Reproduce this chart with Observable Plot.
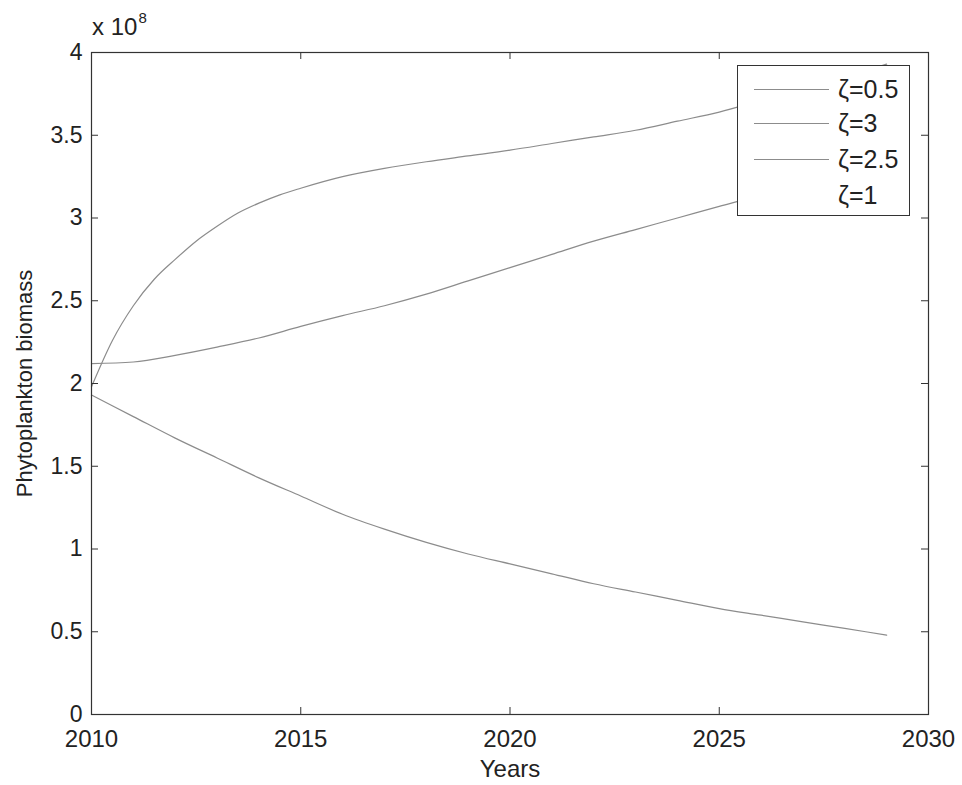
<!DOCTYPE html>
<html>
<head>
<meta charset="utf-8">
<script src="https://cdn.jsdelivr.net/npm/d3@7"></script>
<script src="https://cdn.jsdelivr.net/npm/@observablehq/plot@0.6"></script>
<style>
  html, body { margin: 0; padding: 0; background: #fff; }
  #wrap { position: relative; width: 962px; height: 785px; font-family: "Liberation Sans", Arial, sans-serif; color: #222; }
  #exp { position: absolute; left: 92px; top: 15px; font-size: 24px; line-height: 1; }
  #exp sup { font-size: 15px; position: relative; top: -5px; vertical-align: top; margin-left: 1px; }
  #legend { position: absolute; left: 737px; top: 65px; width: 171px; height: 149px; background: #fff; border: 1px solid #333; }
  .row { position: absolute; left: 0; height: 30px; width: 171px; }
  .row .ln { position: absolute; left: 16px; top: 15px; width: 75px; height: 0; border-top: 1.2px solid #8c8c8c; }
  .row .tx { position: absolute; left: 100px; top: 1px; font-size: 25px; line-height: 28px; }
</style>
</head>
<body>
<div id="wrap"></div>
<script>
// ---- data (biomass in units of 10^8) ----
const years = [2010,2011,2012,2013,2014,2015,2016,2017,2018,2019,2020,2021,2022,2023,2024,2025,2026,2027,2028,2029];
const zeta05 = [1.93,1.80,1.67,1.55,1.43,1.32,1.21,1.12,1.04,0.97,0.91,0.85,0.79,0.74,0.69,0.64,0.60,0.56,0.52,0.48];
const zeta25 = [2.12,2.13,2.17,2.22,2.275,2.345,2.41,2.47,2.54,2.62,2.70,2.78,2.86,2.93,3.00,3.07,3.14,3.22,3.30,3.38];
const years3 = [2010,2010.5,2011,2011.5,2012,2012.5,2013,2013.5,2014,2014.5,2015,2016,2017,2018,2019,2020,2021,2022,2023,2024,2025,2026,2027,2028,2029];
const zeta3 = [1.98,2.26,2.47,2.63,2.75,2.86,2.95,3.03,3.09,3.14,3.18,3.25,3.30,3.34,3.375,3.41,3.45,3.49,3.53,3.585,3.64,3.71,3.78,3.85,3.93];
const legendLabels = ["ζ=0.5","ζ=3","ζ=2.5","ζ=1"];
const legendHasLine = [true,true,true,false];
const xTicks = [2010,2015,2020,2025,2030];
const yTicks = [0,0.5,1,1.5,2,2.5,3,3.5,4];
const xLabel = "Years";
const yLabel = "Phytoplankton biomass";

const rows = [
  ...years.map((x,i)=>({x, y: zeta05[i], s: "ζ=0.5"})),
  ...years3.map((x,i)=>({x, y: zeta3[i], s: "ζ=3"})),
  ...years.map((x,i)=>({x, y: zeta25[i], s: "ζ=2.5"}))
];

const W = 962, H = 785, mL = 91, mR = 34, mT = 52, mB = 71;
const iw = W - mL - mR, ih = H - mT - mB, tk = 7;
const axisColor = "#333";

const chart = Plot.plot({
  width: W, height: H,
  marginLeft: mL, marginRight: mR, marginTop: mT, marginBottom: mB,
  x: {domain: [2010, 2030], axis: null},
  y: {domain: [0, 4], axis: null},
  style: {fontFamily: "'Liberation Sans', Arial, sans-serif", background: "white", color: "#222"},
  marks: [
    Plot.line(rows, {x: "x", y: "y", z: "s", stroke: "#8c8c8c", strokeWidth: 1.2, curve: "monotone-x"}),
    Plot.frame({stroke: axisColor, strokeWidth: 1.2}),
    Plot.tickX(xTicks, {x: d => d, insetTop: ih - tk, stroke: axisColor}),
    Plot.tickX(xTicks, {x: d => d, insetBottom: ih - tk, stroke: axisColor}),
    Plot.tickY(yTicks, {y: d => d, insetRight: iw - tk, stroke: axisColor}),
    Plot.tickY(yTicks, {y: d => d, insetLeft: iw - tk, stroke: axisColor}),
    Plot.axisX(xTicks, {tickSize: 0, tickPadding: 15, fontSize: 24, tickFormat: d => `${d}`, label: null, fill: "#222"}),
    Plot.axisY(yTicks, {tickSize: 0, tickPadding: 9, fontSize: 23, tickFormat: d => `${d}`, label: null, fill: "#222"}),
    Plot.text([xLabel], {text: d => d, frameAnchor: "bottom", textAnchor: "middle", dy: 62, fontSize: 24, fill: "#222"}),
    Plot.text([yLabel], {text: d => d, frameAnchor: "left", textAnchor: "middle", rotate: -90, dx: -67, fontSize: 22, fill: "#222"})
  ]
});

const wrap = document.getElementById("wrap");
wrap.appendChild(chart);

const exp = document.createElement("div");
exp.id = "exp";
exp.innerHTML = "x 10<sup>8</sup>";
wrap.appendChild(exp);

const leg = document.createElement("div");
leg.id = "legend";
const rowTops = [8, 42, 78, 114];
legendLabels.forEach((lab, i) => {
  const r = document.createElement("div");
  r.className = "row";
  r.style.top = rowTops[i] + "px";
  if (legendHasLine[i]) {
    const l = document.createElement("div");
    l.className = "ln";
    r.appendChild(l);
  }
  const t = document.createElement("div");
  t.className = "tx";
  t.textContent = lab;
  r.appendChild(t);
  leg.appendChild(r);
});
wrap.appendChild(leg);
</script>
</body>
</html>
